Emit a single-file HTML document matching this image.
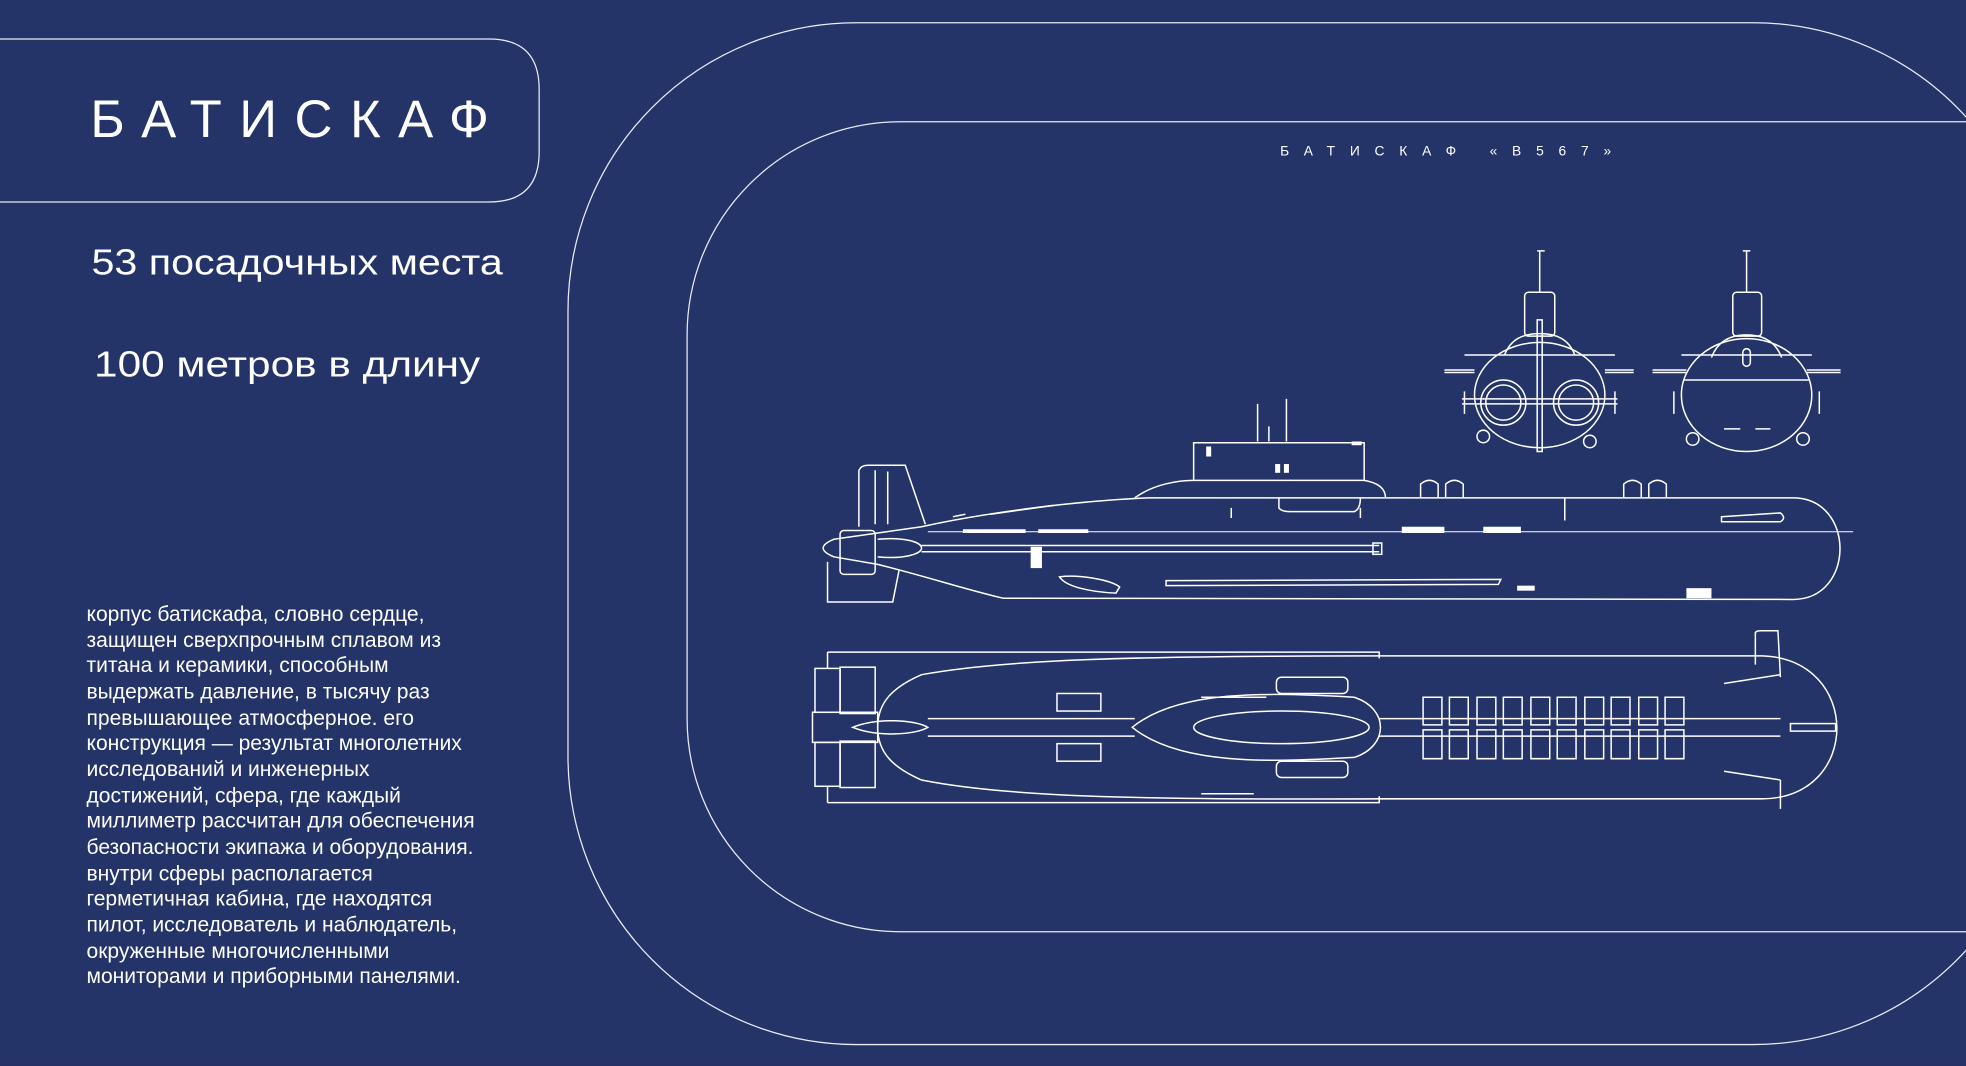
<!DOCTYPE html>
<html><head><meta charset="utf-8"><style>
html,body{margin:0;padding:0;background:#243368;}
svg{display:block}
</style></head><body>
<svg width="1966" height="1066" viewBox="0 0 1568 850" xmlns="http://www.w3.org/2000/svg">
<rect width="1568" height="850" fill="#243368"/>
<g fill="none" stroke="#e8ecf7" stroke-width="1">
<path d="M-5 31 L390 31 Q430 31 430 71 L430 121 Q430 161 390 161 L-5 161"/>
<rect x="453" y="18" width="1175" height="815" rx="230" ry="230"/>
<rect x="548" y="97" width="1800" height="646" rx="170" ry="170"/>
</g>
<g font-family="Liberation Sans, DejaVu Sans, sans-serif" fill="#ffffff">
<text x="72" y="109" font-size="42" textLength="318" lengthAdjust="spacing">БАТИСКАФ</text>
<text x="73" y="219" font-size="29" textLength="328" lengthAdjust="spacingAndGlyphs">53 посадочных места</text>
<text x="75" y="300" font-size="29" textLength="308" lengthAdjust="spacingAndGlyphs">100 метров в длину</text>
<text x="1021" y="124" font-size="11" textLength="264" lengthAdjust="spacing">БАТИСКАФ «В567»</text>
<g font-size="16.8">
<text x="69" y="495">корпус батискафа, словно сердце,</text>
<text x="69" y="516">защищен сверхпрочным сплавом из</text>
<text x="69" y="536">титана и керамики, способным</text>
<text x="69" y="557">выдержать давление, в тысячу раз</text>
<text x="69" y="578">превышающее атмосферное. его</text>
<text x="69" y="598">конструкция — результат многолетних</text>
<text x="69" y="619">исследований и инженерных</text>
<text x="69" y="640">достижений, сфера, где каждый</text>
<text x="69" y="660">миллиметр рассчитан для обеспечения</text>
<text x="69" y="681">безопасности экипажа и оборудования.</text>
<text x="69" y="702">внутри сферы располагается</text>
<text x="69" y="722">герметичная кабина, где находятся</text>
<text x="69" y="743">пилот, исследователь и наблюдатель,</text>
<text x="69" y="764">окруженные многочисленными</text>
<text x="69" y="784">мониторами и приборными панелями.</text>
</g>
</g>

<!-- SIDE VIEW -->
<g fill="none" stroke="#ffffff" stroke-width="1.2">
<path d="M1430 397 L915 397 C850 400 780 410 735 420 L700 425 L665 430 Q648 437 665 444 L700 450 C740 460 770 470 800 477 L1430 478 C1480 478 1480 397 1430 397 Z"/>
<path d="M905 397 C920 386 940 383 952 383 L1088 383 C1100 385 1105 390 1105 397"/>
<path d="M952 383 L952 353 L1088 353 L1088 383"/>
<path d="M1020 397 L1020 405 Q1022 408 1030 408 L1080 408 Q1085 406 1085 397"/>
<path d="M685 420 L685 375 Q687 371 692 371 L722 371 L738 418"/>
<path d="M698 375 L698 418 M708 376 L708 418"/>
<path d="M660 448 L660 480 L712 480 L717 455"/>
<rect x="670" y="423" width="28" height="35" rx="3"/>
<path d="M700 430 C720 428 735 432 735 437 C735 442 720 446 700 444"/>
<path d="M735 435 L1100 435 M735 440 L1100 440"/>
<rect x="1095" y="433" width="7" height="9"/>
<path d="M740 424 L1478 424" stroke-width="0.8"/>
<path d="M930 463 L1197 462 L1195 466 L930 467 Z"/>
<path d="M845 460 C860 458 885 462 893 468 L890 473 C870 472 850 468 845 460 Z"/>
<path d="M1373 412 L1420 409 Q1425 413 1420 416 L1373 416 Z"/>
<path d="M1003 352 L1003 322 M1026 352 L1026 318 M1012 352 L1012 340"/>
<path d="M1133 397 L1133 386 Q1140 380 1147 386 L1147 397 M1153 397 L1153 386 Q1160 380 1167 386 L1167 397 M1295 397 L1295 386 Q1302 380 1309 386 L1309 397 M1315 397 L1315 386 Q1322 380 1329 386 L1329 397"/>
<path d="M1248 397 L1248 415 M982 405 L982 413 M1085 405 L1085 413"/>
<path d="M790 410 L840 403 M760 412 L770 410"/>
</g>
<g fill="#ffffff">
<rect x="822" y="436" width="9" height="17"/>
<rect x="962" y="356" width="4" height="8"/>
<rect x="1017" y="370" width="4" height="7"/><rect x="1024" y="370" width="4" height="7"/>
<rect x="1078" y="352" width="8" height="3"/>
<rect x="768" y="422" width="50" height="3"/>
<rect x="828" y="422" width="40" height="3"/>
<rect x="1118" y="420" width="34" height="5"/>
<rect x="1183" y="420" width="30" height="5"/>
<rect x="1210" y="467" width="14" height="4"/>
<rect x="1345" y="469" width="20" height="8"/>
</g>

<!-- TOP VIEW -->
<g fill="none" stroke="#ffffff" stroke-width="1.2">
<path d="M735 538 C800 526 900 523 1100 523 L1405 523 C1485 525 1485 637 1405 637 L1100 637 C900 638 800 635 735 622 C712 612 700 600 700 580 C700 560 712 548 735 538 Z"/>
<path d="M660 520 L1100 520 L1100 525 M660 640 L1100 640 L1100 635"/>
<path d="M660 520 L660 533 M660 627 L660 640"/>
<rect x="650" y="533" width="20" height="35"/><rect x="670" y="532" width="28" height="37"/>
<rect x="650" y="592" width="20" height="35"/><rect x="670" y="591" width="28" height="37"/>
<path d="M648 568 L700 568 L700 592 L648 592 Z"/>
<path d="M680 580 C700 572 730 574 740 580 C730 586 700 588 680 580 Z"/>
<path d="M740 573 L905 573 M740 587 L905 587 M1100 573 L1420 573 M1100 587 L1420 587"/>
<path d="M903 580 C940 550 1010 552 1080 556 C1108 565 1108 595 1080 604 C1010 608 940 610 903 580 Z"/>
<ellipse cx="1022" cy="580" rx="70" ry="13"/>
<rect x="1018" y="540" width="57" height="13" rx="4"/>
<rect x="1018" y="607" width="57" height="13" rx="4"/>
<rect x="843" y="553" width="35" height="14"/>
<rect x="843" y="593" width="35" height="14"/>
<path d="M1400 530 L1400 505 Q1400 503 1404 503 L1418 503 L1420 540"/>
<path d="M1375 545 L1420 538 M1375 615 L1420 622 M1420 622 L1420 645"/>
<path d="M958 556 L1010 556 M958 633 L1000 633"/>
<g>
<path d="M1135 556 h15 v22 h-15 z M1135 582 h15 v23 h-15 z"/>
<path d="M1156 556 h15 v22 h-15 z M1156 582 h15 v23 h-15 z"/>
<path d="M1178 556 h15 v22 h-15 z M1178 582 h15 v23 h-15 z"/>
<path d="M1199 556 h15 v22 h-15 z M1199 582 h15 v23 h-15 z"/>
<path d="M1221 556 h15 v22 h-15 z M1221 582 h15 v23 h-15 z"/>
<path d="M1242 556 h15 v22 h-15 z M1242 582 h15 v23 h-15 z"/>
<path d="M1264 556 h15 v22 h-15 z M1264 582 h15 v23 h-15 z"/>
<path d="M1285 556 h15 v22 h-15 z M1285 582 h15 v23 h-15 z"/>
<path d="M1307 556 h15 v22 h-15 z M1307 582 h15 v23 h-15 z"/>
<path d="M1328 556 h15 v22 h-15 z M1328 582 h15 v23 h-15 z"/>
</g>
<rect x="1428" y="577" width="36" height="6"/>
</g>

<!-- FRONT VIEW 1 -->
<g fill="none" stroke="#ffffff" stroke-width="1.2">
<ellipse cx="1228" cy="315" rx="52" ry="42"/>
<path d="M1200 283 C1205 270 1215 266 1228 266 C1241 266 1251 270 1256 283"/>
<rect x="1216" y="233" width="24" height="35" rx="3"/>
<path d="M1228 233 L1228 200 M1226 200 L1232 200"/>
<path d="M1226 255 L1226 360 L1230 360 L1230 255 Z"/>
<path d="M1152 295 L1176 295 M1280 295 L1303 295 M1152 297 L1176 297 M1280 297 L1303 297"/>
<path d="M1168 283 L1288 283"/>
<circle cx="1199" cy="321" r="18"/><circle cx="1199" cy="321" r="14"/>
<circle cx="1257" cy="321" r="18"/><circle cx="1257" cy="321" r="14"/>
<path d="M1166 318 L1290 318 M1166 322 L1290 322 M1168 312 L1168 330 M1288 312 L1288 330"/>
<circle cx="1183" cy="348" r="5"/><circle cx="1268" cy="352" r="5"/>
</g>
<!-- FRONT VIEW 2 -->
<g fill="none" stroke="#ffffff" stroke-width="1.2">
<ellipse cx="1393" cy="315" rx="52" ry="45"/>
<path d="M1365 285 C1370 272 1380 267 1393 267 C1406 267 1416 272 1421 285"/>
<rect x="1382" y="233" width="23" height="35" rx="3"/>
<path d="M1393 233 L1393 200 M1390 200 L1396 200"/>
<path d="M1318 295 L1345 295 M1441 295 L1468 295 M1318 297 L1345 297 M1441 297 L1468 297"/>
<path d="M1341 283 L1445 283 M1343 303 L1443 303"/>
<rect x="1390" y="278" width="6" height="14" rx="3"/>
<path d="M1335 312 L1335 330 M1451 312 L1451 330"/>
<circle cx="1350" cy="350" r="5"/><circle cx="1438" cy="350" r="5"/>
<path d="M1375 342 L1388 342 M1400 342 L1412 342"/>
</g>
</svg>
</body></html>
